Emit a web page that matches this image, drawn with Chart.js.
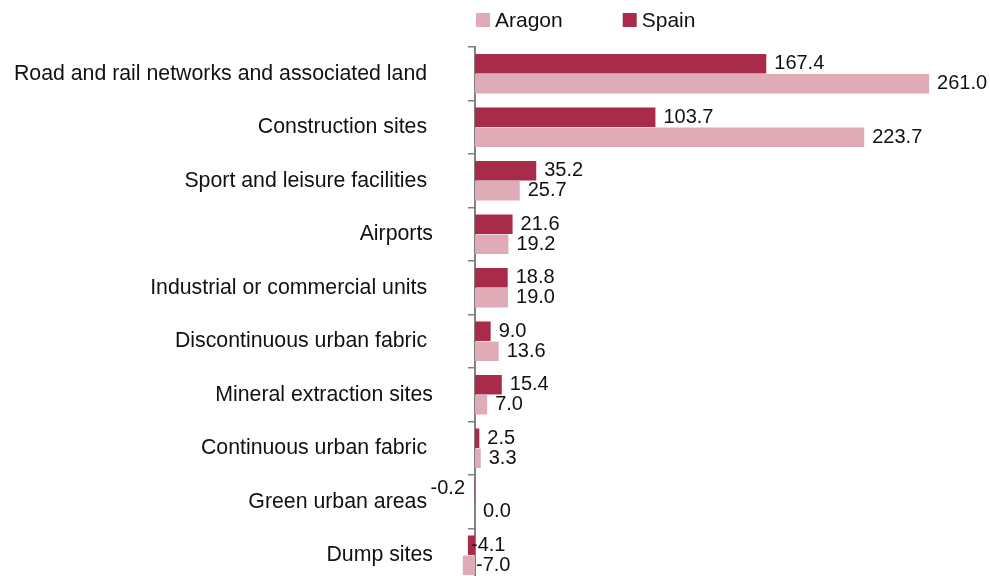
<!DOCTYPE html>
<html>
<head>
<meta charset="utf-8">
<title>Land cover change: Aragon vs Spain</title>
<script src="https://cdn.jsdelivr.net/npm/chart.js@4.4.1/dist/chart.umd.min.js"></script>
<style>
    html, body { margin: 0; padding: 0; background: #fff; overflow: hidden; }
    #wrap { position: relative; width: 990px; height: 582px; }
</style>
</head>
<body>
<div id="wrap"><canvas id="landChart"></canvas></div>
<script>
// Categories (trailing spaces kept as in the original labels)
const categories = [
    'Road and rail networks and associated land ',
    'Construction sites ',
    'Sport and leisure facilities ',
    'Airports',
    'Industrial or commercial units ',
    'Discontinuous urban fabric ',
    'Mineral extraction sites',
    'Continuous urban fabric ',
    'Green urban areas ',
    'Dump sites'
];

const spainValues = [167.4, 103.7, 35.2, 21.6, 18.8, 9.0, 15.4, 2.5, -0.2, -4.1];
const aragonValues = [261.0, 223.7, 25.7, 19.2, 19.0, 13.6, 7.0, 3.3, 0.0, -7.0];

const spainColor = '#a82b4a';
const aragonColor = '#deabb7';
const textColor = '#111111';
const axisColor = '#808080';
const fontFamily = '"Liberation Sans", Arial, sans-serif';

// Value labels next to each bar
const valueLabels = {
    id: 'valueLabels',
    afterDatasetsDraw(chart) {
        const ctx = chart.ctx;
        const zero = chart.scales.x.getPixelForValue(0);
        ctx.save();
        ctx.font = '20px ' + fontFamily;
        ctx.fillStyle = textColor;
        ctx.textBaseline = 'middle';
        chart.data.datasets.forEach((ds, di) => {
            const meta = chart.getDatasetMeta(di);
            meta.data.forEach((bar, i) => {
                const v = ds.data[i];
                const txt = v.toFixed(1);
                ctx.textAlign = 'left';
                let x = bar.x + 8;
                let y = bar.y;
                if (v < 0 && v > -1) {
                    ctx.textAlign = 'right';
                    x = zero - 10;
                    y -= 3;
                } else if (v < 0) {
                    x = zero + (di === 0 ? -4 : 1);
                }
                ctx.fillText(txt, x, y);
            });
        });
        ctx.restore();
    }
};

// Legend drawn above the plot, Aragon first
const topLegend = {
    id: 'topLegend',
    afterDraw(chart) {
        const ctx = chart.ctx;
        ctx.save();
        ctx.font = '21px ' + fontFamily;
        ctx.textBaseline = 'middle';
        let x = chart.chartArea.left + 1;
        const y = 20;
        chart.data.datasets.slice().reverse().forEach(ds => {
            ctx.fillStyle = ds.backgroundColor;
            ctx.fillRect(x, y - 7, 14, 14);
            ctx.fillStyle = textColor;
            ctx.textAlign = 'left';
            ctx.fillText(ds.label, x + 19, y + 1);
            x += 19 + ctx.measureText(ds.label).width + 60;
        });
        ctx.restore();
    }
};

document.addEventListener('DOMContentLoaded', function() {
    const ctx = document.getElementById('landChart');
    new Chart(ctx, {
        type: 'bar',
        data: {
            labels: categories,
            datasets: [
                {
                    label: 'Spain',
                    data: spainValues,
                    backgroundColor: spainColor,
                    categoryPercentage: 0.75,
                    barPercentage: 0.97,
                    clip: false
                },
                {
                    label: 'Aragon',
                    data: aragonValues,
                    backgroundColor: aragonColor,
                    categoryPercentage: 0.75,
                    barPercentage: 0.97,
                    clip: false
                }
            ]
        },
        options: {
            indexAxis: 'y',
            responsive: true,
            maintainAspectRatio: false,
            animation: false,
            layout: {
                padding: { top: 47, right: 0, bottom: 0, left: 0 }
            },
            plugins: {
                legend: { display: false },
                tooltip: { enabled: false }
            },
            scales: {
                x: {
                    display: false,
                    min: 0,
                    max: 296
                },
                y: {
                    afterFit: function(scale) {
                        // fixed axis width, no extra vertical label margins
                        scale.width = 475;
                        scale.paddingTop = 0;
                        scale.paddingBottom = 0;
                    },
                    grid: {
                        drawOnChartArea: false,
                        tickLength: 7,
                        color: axisColor,
                        lineWidth: 1.5
                    },
                    border: {
                        color: axisColor,
                        width: 2
                    },
                    ticks: {
                        padding: 35,
                        color: textColor,
                        font: { family: fontFamily, size: 21.3 }
                    }
                }
            }
        },
        plugins: [valueLabels, topLegend]
    });
});
</script>
</body>
</html>
